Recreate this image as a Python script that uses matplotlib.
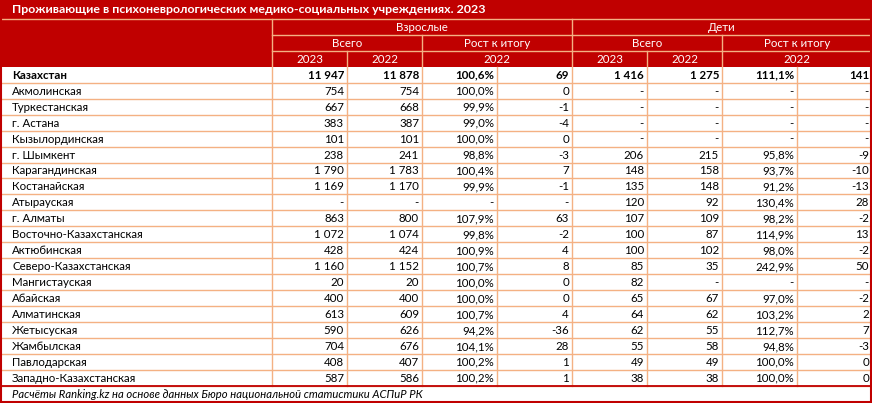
import matplotlib
matplotlib.use("Agg")
import matplotlib.pyplot as plt
from matplotlib.patches import Rectangle

plt.rcParams['font.family'] = ['Lato', 'DejaVu Sans']

title = "Проживающие в психоневрологических медико-социальных учреждениях. 2023"
footer = "Расчёты Ranking.kz на основе данных Бюро национальной статистики АСПиР РК"
group_labels = ["Взрослые", "Дети"]
sub_labels = ["Всего", "Рост к итогу"]
year_labels = ["2023", "2022", "2022"]

regions = ["Казахстан", "Акмолинская", "Туркестанская", "г. Астана", "Кызылординская",
           "г. Шымкент", "Карагандинская", "Костанайская", "Атырауская", "г. Алматы",
           "Восточно-Казахстанская", "Актюбинская", "Северо-Казахстанская", "Мангистауская",
           "Абайская", "Алматинская", "Жетысуская", "Жамбылская", "Павлодарская",
           "Западно-Казахстанская"]
adult_2023 = [11947, 754, 667, 383, 101, 238, 1790, 1169, None, 863, 1072, 428, 1160, 20,
              400, 613, 590, 704, 408, 587]
adult_2022 = [11878, 754, 668, 387, 101, 241, 1783, 1170, None, 800, 1074, 424, 1152, 20,
              400, 609, 626, 676, 407, 586]
adult_pct = [100.6, 100.0, 99.9, 99.0, 100.0, 98.8, 100.4, 99.9, None, 107.9, 99.8, 100.9,
             100.7, 100.0, 100.0, 100.7, 94.2, 104.1, 100.2, 100.2]
adult_diff = [69, 0, -1, -4, 0, -3, 7, -1, None, 63, -2, 4, 8, 0, 0, 4, -36, 28, 1, 1]
child_2023 = [1416, None, None, None, None, 206, 148, 135, 120, 107, 100, 100, 85, 82,
              65, 64, 62, 55, 49, 38]
child_2022 = [1275, None, None, None, None, 215, 158, 148, 92, 109, 87, 102, 35, None,
              67, 62, 55, 58, 49, 38]
child_pct = [111.1, None, None, None, None, 95.8, 93.7, 91.2, 130.4, 98.2, 114.9, 98.0,
             242.9, None, 97.0, 103.2, 112.7, 94.8, 100.0, 100.0]
child_diff = [141, None, None, None, None, -9, -10, -13, 28, -2, 13, -2, 50, None,
              -2, 2, 7, -3, 0, 0]


def fmt_int(v):
    if v is None:
        return "-"
    s = f"{abs(v):,}".replace(",", "\u00a0")
    return ("-" if v < 0 else "") + s


def fmt_pct(v):
    if v is None:
        return "-"
    return f"{v:.1f}".replace(".", ",") + "%"


columns = [
    [fmt_int(v) for v in adult_2023],
    [fmt_int(v) for v in adult_2022],
    [fmt_pct(v) for v in adult_pct],
    [fmt_int(v) for v in adult_diff],
    [fmt_int(v) for v in child_2023],
    [fmt_int(v) for v in child_2022],
    [fmt_pct(v) for v in child_pct],
    [fmt_int(v) for v in child_diff],
]

W, H = 872, 403
fig = plt.figure(figsize=(W / 100, H / 100), dpi=100)
ax = fig.add_axes([0, 0, 1, 1])
ax.set_xlim(0, W)
ax.set_ylim(H, 0)
ax.axis("off")

RED = "#C00000"
GRID = "#F4B183"
FS = 8.3

label_w = 272
col_w = 75
col_x = [label_w + i * col_w for i in range(len(columns) + 1)]
title_h = 18.5
hdr_h = 16.1
data_top = title_h + 3 * hdr_h
row_h = 15.95
n = len(regions)
data_bot = data_top + n * row_h

# header background
ax.add_patch(Rectangle((0, 0), W, data_top, facecolor=RED, edgecolor="none"))
ax.text(12, title_h / 2 + 0.5, title, color="white", fontsize=8.9, fontweight="bold",
        va="center", ha="left")

# header lines
ax.plot([0, W], [title_h, title_h], color=GRID, lw=1)
ax.plot([label_w, W], [title_h + hdr_h] * 2, color=GRID, lw=1)
ax.plot([label_w, W], [title_h + 2 * hdr_h] * 2, color=GRID, lw=1)
for i, x in enumerate(col_x[:-1]):
    if i % 4 == 0:
        y0 = title_h
    elif i % 4 == 2:
        y0 = title_h + hdr_h
    elif i % 4 == 1:
        y0 = title_h + 2 * hdr_h
    else:
        y0 = data_top
    ax.plot([x, x], [y0, data_bot], color=GRID, lw=1)

# header texts
for g, lab in enumerate(group_labels):
    cx = (col_x[4 * g] + col_x[4 * g + 4]) / 2
    ax.text(cx, title_h + hdr_h / 2 + 0.5, lab, color="white", fontsize=FS,
            ha="center", va="center")
    for s, sl in enumerate(sub_labels):
        cx = (col_x[4 * g + 2 * s] + col_x[4 * g + 2 * s + 2]) / 2
        ax.text(cx, title_h + 1.5 * hdr_h + 0.5, sl, color="white", fontsize=FS,
                ha="center", va="center")
    yl = title_h + 2.5 * hdr_h + 0.5
    for k in range(2):
        cx = (col_x[4 * g + k] + col_x[4 * g + k + 1]) / 2
        ax.text(cx, yl, year_labels[k], color="white", fontsize=FS, ha="center", va="center")
    cx = (col_x[4 * g + 2] + col_x[4 * g + 4]) / 2
    ax.text(cx, yl, year_labels[2], color="white", fontsize=FS, ha="center", va="center")

# data rows
for r in range(n):
    y = data_top + (r + 1) * row_h
    ax.plot([0, W], [y, y], color=GRID, lw=1)
    yc = data_top + (r + 0.5) * row_h + 0.5
    bold = "bold" if r == 0 else "normal"
    ax.text(12, yc, regions[r], fontsize=FS, ha="left", va="center", fontweight=bold,
            color="black")
    for c, col in enumerate(columns):
        ax.text(col_x[c + 1] - 3, yc, col[r], fontsize=FS, ha="right", va="center",
                fontweight=bold, color="black")

# footer
ax.plot([0, W], [data_bot, data_bot], color=RED, lw=1.3)
ax.text(12, (data_bot + H) / 2, footer, fontsize=8.1, style="italic", ha="left",
        va="center", color="black")

# outer border
ax.plot([0.7, 0.7], [0, H], color=RED, lw=1.5)
ax.plot([W - 0.7, W - 0.7], [0, H], color=RED, lw=1.5)
ax.plot([0, W], [H - 0.8, H - 0.8], color=RED, lw=1.5)

fig.savefig("out.png", dpi=100)
